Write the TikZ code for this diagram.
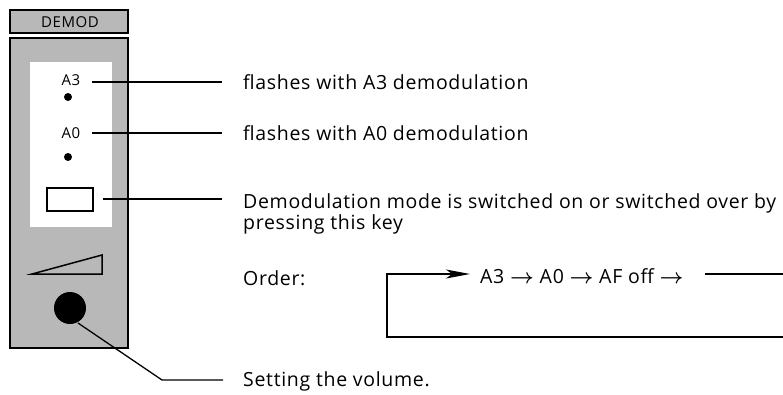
\documentclass[tikz,border=0pt]{standalone}
\usepackage{fontspec}
\setmainfont[LetterSpace=3.5]{Open Sans}
\usetikzlibrary{arrows.meta, positioning}

\begin{document}
\begin{tikzpicture}[x=1pt,y=-1pt,
    leader/.style={line width=1.3pt},
    desc/.style={anchor=base west, inner sep=0pt, font=\fontsize{19.5}{23}\selectfont},
    tag/.style={inner sep=0pt, font=\fontsize{15}{17}\selectfont},
    shade/.style={fill=black!28}]
  \useasboundingbox (0,0) rectangle (783,394);
  % front panel of the demodulator
  \draw[shade,line width=1.4pt] (10,10) rectangle (128,33);
  \node[tag] (head) at (70,22) {DEMOD};
  \draw[shade,line width=2.2pt] (10,38) rectangle (128,348);
  \fill[white] (30,62) rectangle (112,227);
  \node[tag] (lA3) at (71,80) {A3};
  \fill (68,97) circle (4);
  \node[tag] (lA0) at (71,133) {A0};
  \fill (68,157) circle (4);
  \draw[line width=1.5pt] (47,188) rectangle (93,211);
  \draw[line width=1.5pt] (32,274) -- (102,255) -- (102,274) -- cycle;
  \fill (70,308) circle (16);
  % leader end points
  \coordinate (pA3) at (92,82);
  \coordinate (eA3) at (222,82);
  \coordinate (pA0) at (92,133);
  \coordinate (eA0) at (222,133);
  \coordinate (pkey) at (103,199);
  \coordinate (ekey) at (222,199);
  \coordinate (pvol) at (78,323);
  \coordinate (kvol) at (162,380);
  \coordinate (evol) at (223,380);
  % texts
  \node[desc] (tA3) at (243,89) {flashes with A3 demodulation};
  \node[desc] (tA0) at (243,140) {flashes with A0 demodulation};
  \node[desc] (tkey) at (243,208) {Demodulation mode is switched on or switched over by};
  \node[desc] (tkeyb) at (243,229) {pressing this key};
  \node[desc] (tord) at (243,285) {Order:};
  \node[desc] (tseq) at (480,283) {A3 {\boldmath$\rightarrow$} A0 {\boldmath$\rightarrow$} AF off {\boldmath$\rightarrow$}};
  \node[desc] (tvol) at (243,386) {Setting the volume.};
  % leaders
  \draw[leader] (pA3) -- (eA3);
  \draw[leader] (pA0) -- (eA0);
  \draw[leader] (pkey) -- (ekey);
  \draw[leader] (pvol) -- (kvol) -- (evol);
  % switching order loop
  \coordinate (lpin) at (470,274);
  \coordinate (lptl) at (387,274);
  \coordinate (lpbl) at (387,337);
  \coordinate (lpbr) at (783,337);
  \coordinate (lpout) at (705,274);
  \coordinate (lpend) at (783,274);
  \draw[leader,-{Stealth[length=24pt,width=9pt,inset=6pt]}] (lpbr) -- (lpbl) -- (lptl) -- (lpin);
  \draw[leader] (lpout) -- (lpend);
\end{tikzpicture}
\end{document}
